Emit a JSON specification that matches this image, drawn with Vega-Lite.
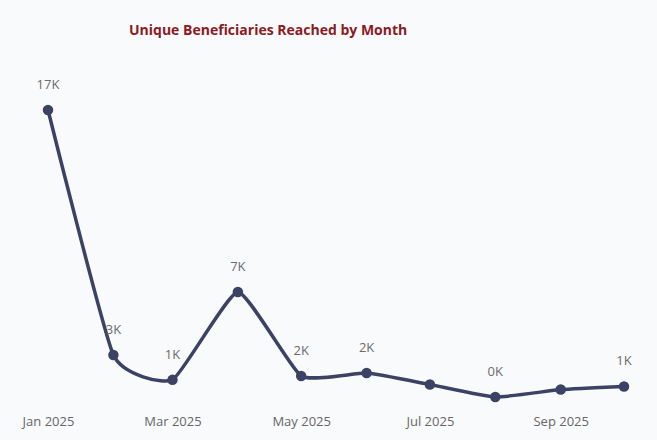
{
  "$schema": "https://vega.github.io/schema/vega-lite/v6.json",
  "width": 576,
  "height": 295,
  "autosize": {"type": "none"},
  "padding": {"left": 48, "right": 33, "top": 110, "bottom": 35},
  "background": "#f9fafc",
  "title": {
    "text": "Unique Beneficiaries Reached by Month",
    "font": "Open Sans",
    "fontSize": 14,
    "fontWeight": "bold",
    "color": "#8b1a22",
    "anchor": "start",
    "frame": "group",
    "dx": 81,
    "dy": 9,
    "offset": 50
  },
  "data": {
    "values": [
      {"month": "2025-01-01", "value": 17000, "label": "17K"},
      {"month": "2025-02-01", "value": 2880, "label": "3K"},
      {"month": "2025-03-01", "value": 1450, "label": "1K"},
      {"month": "2025-04-01", "value": 6510, "label": "7K"},
      {"month": "2025-05-01", "value": 1670, "label": "2K"},
      {"month": "2025-06-01", "value": 1840, "label": "2K"},
      {"month": "2025-07-01", "value": 1180, "label": ""},
      {"month": "2025-08-01", "value": 460, "label": "0K"},
      {"month": "2025-09-01", "value": 890, "label": ""},
      {"month": "2025-10-01", "value": 1070, "label": "1K"}
    ]
  },
  "encoding": {
    "x": {
      "field": "month",
      "type": "temporal",
      "scale": {"domain": ["2025-01-01", "2025-10-01"], "nice": false},
      "axis": {
        "title": null,
        "format": "%b %Y",
        "values": ["2025-01-01", "2025-03-01", "2025-05-01", "2025-07-01", "2025-09-01"],
        "domain": false,
        "ticks": false,
        "grid": false,
        "labelFont": "Open Sans",
        "labelFontSize": 13,
        "labelColor": "#666666",
        "labelPadding": 10,
        "labelOverlap": false,
        "labelFlush": false
      }
    },
    "y": {
      "field": "value",
      "type": "quantitative",
      "scale": {"domain": [0, 17000], "nice": false, "zero": true},
      "axis": null
    }
  },
  "layer": [
    {
      "mark": {"type": "line", "interpolate": "cardinal", "tension": 0.55, "color": "#3b4264", "strokeWidth": 3.5}
    },
    {
      "mark": {"type": "point", "filled": true, "color": "#3b4264", "size": 110, "opacity": 1}
    },
    {
      "transform": [{"filter": "datum.label != ''"}],
      "mark": {"type": "text", "dy": -25, "font": "Open Sans", "fontSize": 13, "color": "#6b6b6b"},
      "encoding": {"text": {"field": "label", "type": "nominal"}}
    }
  ],
  "config": {"view": {"stroke": null}}
}
